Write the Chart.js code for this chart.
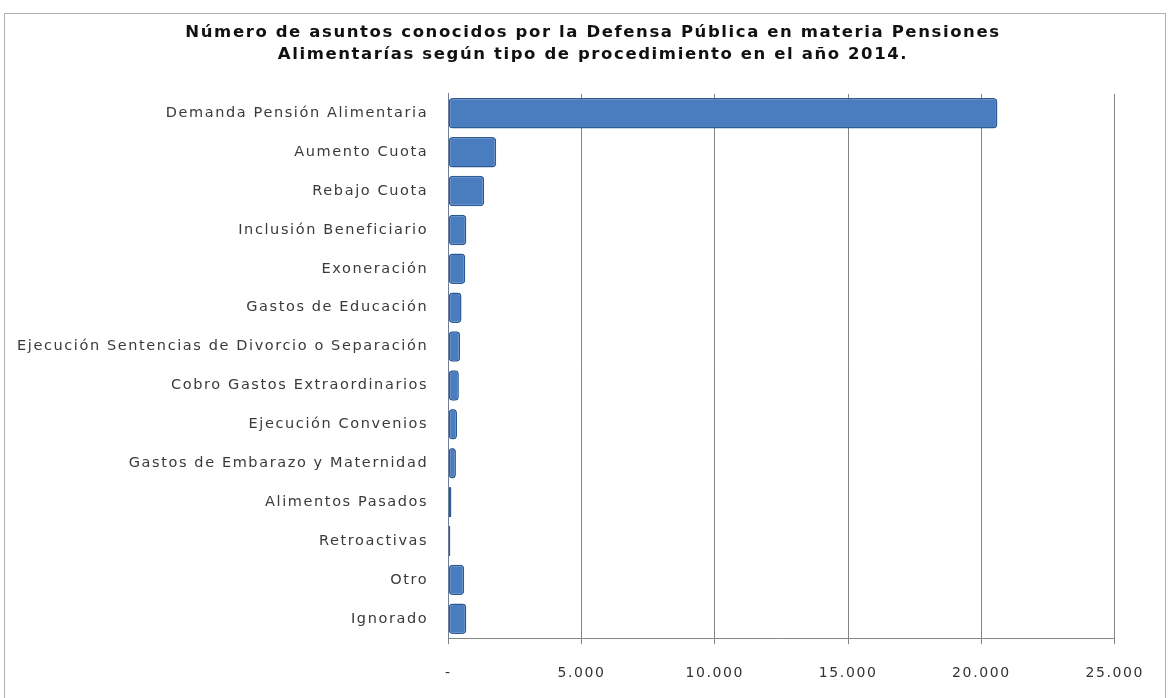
<!DOCTYPE html>
<html>
<head>
<meta charset="utf-8">
<script src="https://cdn.jsdelivr.net/npm/chart.js@4.4.1/dist/chart.umd.min.js"></script>
<style>
    body { margin: 0; background: #fff; }
    #frame {
        position: absolute; left: 4px; top: 13px;
        width: 1162px; height: 700px;
        border: 1px solid #b0b0b0; box-sizing: border-box;
    }
    #wrap { position: absolute; left: 0; top: 0; width: 1160px; height: 693px; }
</style>
</head>
<body>
<div id="frame"><div id="wrap"><canvas id="pensionChart"></canvas></div></div>
<script>
// Tipos de procedimiento y cantidad de asuntos (2014)
const procedimientos = [
    "Demanda Pensión Alimentaria",
    "Aumento Cuota",
    "Rebajo Cuota",
    "Inclusión Beneficiario",
    "Exoneración",
    "Gastos de Educación",
    "Ejecución Sentencias de Divorcio o Separación",
    "Cobro Gastos Extraordinarios",
    "Ejecución Convenios",
    "Gastos de Embarazo y Maternidad",
    "Alimentos Pasados",
    "Retroactivas",
    "Otro",
    "Ignorado"
];
const asuntos = [20600, 1800, 1350, 680, 640, 500, 450, 400, 330, 290, 120, 80, 600, 680];
const tituloLineas = [
    "Número de asuntos conocidos por la Defensa Pública en materia Pensiones",
    "Alimentarías según tipo de procedimiento en el año 2014."
];

// el original tiene el texto ancho, se abre un poco el espaciado
const espaciado = {
    id: "espaciado",
    beforeLayout(chart) { chart.ctx.letterSpacing = "1.6px"; },
    beforeDraw(chart) { chart.ctx.letterSpacing = "1.6px"; },
    afterLayout(chart) {
        // el título va algo corrido a la derecha
        if (chart.titleBlock) {
            chart.titleBlock.left += 29;
            chart.titleBlock.right += 29;
        }
    },
};

new Chart(document.getElementById("pensionChart"), {
    type: "bar",
    data: {
        labels: procedimientos,
        datasets: [
            {
                label: "Asuntos",
                data: asuntos,
                backgroundColor: "#4a7cc0",
                borderColor: "#2c5a94",
                borderWidth: 1.5,
                borderRadius: 4,
                borderSkipped: false,
                categoryPercentage: 0.8,
                barPercentage: 0.98,
            },
        ],
    },
    options: {
        indexAxis: "y",
        responsive: true,
        maintainAspectRatio: false,
        animation: false,
        layout: { padding: { left: 0, right: 42, top: 0, bottom: 4 } },
        plugins: {
            legend: { display: false },
            tooltip: { enabled: false },
            title: {
                display: true,
                text: tituloLineas,
                color: "#111",
                font: { family: "'DejaVu Sans'", size: 16.5, weight: "bold", lineHeight: 1.33 },
                padding: { top: 8, bottom: 28 },
            },
        },
        scales: {
            x: {
                min: 0,
                max: 25000,
                ticks: {
                    stepSize: 5000,
                    color: "#333",
                    font: { family: "'DejaVu Sans'", size: 14 },
                    padding: 21,
                    callback: (v) => (v === 0 ? "-" : v.toLocaleString("de-DE")),
                },
                grid: { color: "#858585", drawTicks: true, tickLength: 6 },
                border: { color: "#858585" },
            },
            y: {
                ticks: {
                    color: "#3a3a3a",
                    font: { family: "'DejaVu Sans'", size: 14.5 },
                    padding: 12,
                    autoSkip: false,
                },
                grid: { display: false, drawTicks: true },
                border: { color: "#6f7f99" },
            },
        },
    },
    plugins: [espaciado],
});
</script>
</body>
</html>
